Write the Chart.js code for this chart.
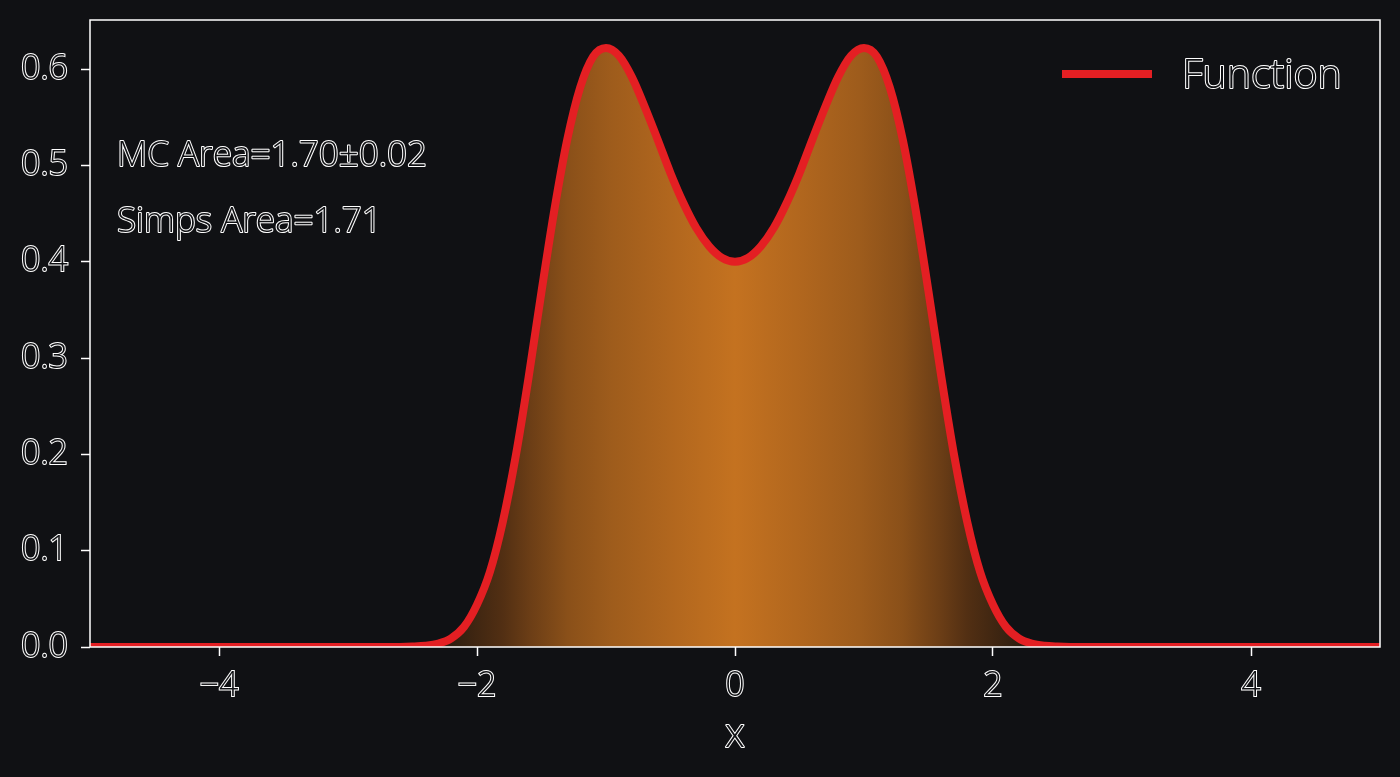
<!DOCTYPE html>
<html>
<head>
<meta charset="utf-8">
<script src="https://cdn.jsdelivr.net/npm/chart.js@4.4.1/dist/chart.umd.min.js"></script>
<style>
  html, body { margin: 0; padding: 0; background: #101114; }
  #wrap { width: 1400px; height: 777px; }
</style>
</head>
<body>
<div id="wrap"><canvas id="chart1" width="1400" height="777"></canvas></div>
<script>
var X_VALUES = [-5, -4, -3, -2.6, -2.5, -2.4, -2.3, -2.2, -2.1, -2.0, -1.9, -1.8, -1.7, -1.6, -1.5, -1.4, -1.3, -1.2, -1.1, -1.0,
                -0.9, -0.8, -0.7, -0.6, -0.5, -0.4, -0.3, -0.2, -0.1, 0,
                0.1, 0.2, 0.3, 0.4, 0.5, 0.6, 0.7, 0.8, 0.9, 1.0, 1.1, 1.2, 1.3, 1.4, 1.5, 1.6, 1.7, 1.8, 1.9, 2.0,
                2.1, 2.2, 2.3, 2.4, 2.5, 2.6, 3, 4, 5];
var Y_VALUES = [0, 0, 0, 0.0001, 0.0004, 0.0012, 0.0035, 0.009, 0.021, 0.044, 0.078, 0.130, 0.198, 0.280, 0.369, 0.454, 0.527, 0.581, 0.613, 0.622,
                0.614, 0.592, 0.561, 0.527, 0.492, 0.461, 0.435, 0.416, 0.404, 0.400,
                0.404, 0.416, 0.435, 0.461, 0.492, 0.527, 0.561, 0.592, 0.614, 0.622, 0.613, 0.581, 0.527, 0.454, 0.369, 0.280, 0.198, 0.130, 0.078, 0.044,
                0.021, 0.009, 0.0035, 0.0012, 0.0004, 0.0001, 0, 0, 0];

var X_TICKS = [-4, -2, 0, 2, 4];
var Y_TICKS = [0, 0.1, 0.2, 0.3, 0.4, 0.5, 0.6];
var SERIES_LABEL = 'Function';
var X_TITLE = 'x';
var NOTES = ['MC Area=1.70\u00b10.02', 'Simps Area=1.71'];

var BG = '#101114';
var RED = '#e41f23';
var FONT = '"Open Sans", "DejaVu Sans", sans-serif';

var points = X_VALUES.map(function(x, i){ return {x: x, y: Y_VALUES[i]}; });

function outlined(ctx, text, x, y, size, align){
  ctx.save();
  ctx.font = '300 ' + size + 'px ' + FONT;
  ctx.textAlign = align || 'left';
  ctx.textBaseline = 'alphabetic';
  ctx.lineWidth = 2;
  ctx.strokeStyle = '#ffffff';
  ctx.lineJoin = 'round';
  ctx.strokeText(text, x, y);
  ctx.fillStyle = BG;
  ctx.fillText(text, x, y);
  ctx.restore();
}

function orangeFill(context){
  var chart = context.chart;
  var area = chart.chartArea;
  if (!area) return 'rgba(190,110,30,0.9)';
  var xs = chart.scales.x;
  var g = chart.ctx.createLinearGradient(xs.getPixelForValue(-2.4), 0, xs.getPixelForValue(2.4), 0);
  g.addColorStop(0.00, 'rgb(30,22,16)');
  g.addColorStop(0.06, 'rgb(55,34,17)');
  g.addColorStop(0.125, 'rgb(82,47,19)');
  g.addColorStop(0.17, 'rgb(108,62,22)');
  g.addColorStop(0.23, 'rgb(138,80,25)');
  g.addColorStop(0.30, 'rgb(158,92,28)');
  g.addColorStop(0.40, 'rgb(178,103,30)');
  g.addColorStop(0.50, 'rgb(196,114,32)');
  g.addColorStop(0.60, 'rgb(178,103,30)');
  g.addColorStop(0.70, 'rgb(158,92,28)');
  g.addColorStop(0.77, 'rgb(138,80,25)');
  g.addColorStop(0.83, 'rgb(108,62,22)');
  g.addColorStop(0.875, 'rgb(82,47,19)');
  g.addColorStop(0.94, 'rgb(55,34,17)');
  g.addColorStop(1.00, 'rgb(30,22,16)');
  return g;
}

var decor = {
  id: 'decor',
  afterDraw: function(chart){
    var ctx = chart.ctx;
    var a = chart.chartArea;
    // frame
    ctx.save();
    ctx.strokeStyle = '#ffffff';
    ctx.lineWidth = 1.5;
    ctx.strokeRect(a.left, a.top, a.right - a.left, a.bottom - a.top);
    ctx.restore();
    // legend
    ctx.save();
    ctx.strokeStyle = RED;
    ctx.lineWidth = 8;
    ctx.beginPath();
    ctx.moveTo(1062, 74);
    ctx.lineTo(1152, 74);
    ctx.stroke();
    ctx.restore();
    outlined(ctx, SERIES_LABEL, 1182, 88, 41, 'left');
    // notes
    outlined(ctx, NOTES[0], 117, 166, 35, 'left');
    outlined(ctx, NOTES[1], 117, 232, 35, 'left');
    // axis title
    outlined(ctx, X_TITLE, 735, 747, 40, 'center');
  }
};

const ctx = document.getElementById('chart1');
new Chart(ctx, {
  type: 'line',
  data: {
    datasets: [
      {
        label: SERIES_LABEL,
        data: points,
        borderColor: RED,
        borderWidth: 8,
        pointRadius: 0,
        fill: false,
        cubicInterpolationMode: 'monotone',
        clip: 0,
        order: 0
      },
      {
        label: 'samples',
        data: points,
        borderWidth: 0,
        borderColor: 'rgba(0,0,0,0)',
        backgroundColor: orangeFill,
        pointRadius: 0,
        fill: 'origin',
        cubicInterpolationMode: 'monotone',
        order: 1
      }
    ]
  },
  options: {
    responsive: false,
    maintainAspectRatio: false,
    devicePixelRatio: 1,
    animation: false,
    layout: { padding: { left: 0, right: 20, top: 20, bottom: 0 } },
    plugins: {
      legend: { display: false },
      tooltip: { enabled: false }
    },
    scales: {
      x: {
        type: 'linear',
        min: -5,
        max: 5,
        afterBuildTicks: function(axis){ axis.ticks = X_TICKS.map(function(v){ return {value: v}; }); },
        afterFit: function(axis){ axis.height = 130; axis.paddingLeft = 0; axis.paddingRight = 0; },
        grid: { drawOnChartArea: false, drawTicks: true, tickLength: 9, tickColor: '#ffffff', tickWidth: 1.5 },
        border: { display: false },
        ticks: {
          maxRotation: 0,
          padding: 10,
          color: BG,
          textStrokeColor: '#ffffff',
          textStrokeWidth: 2,
          font: { family: FONT, size: 34, weight: 300 },
          callback: function(v){ return v < 0 ? '\u2212' + Math.abs(v) : String(v); }
        }
      },
      y: {
        type: 'linear',
        min: 0,
        max: 0.651,
        afterBuildTicks: function(axis){ axis.ticks = Y_TICKS.map(function(v){ return {value: v}; }); },
        afterFit: function(axis){ axis.width = 90; axis.paddingTop = 0; axis.paddingBottom = 0; },
        grid: { drawOnChartArea: false, drawTicks: true, tickLength: 9, tickColor: '#ffffff', tickWidth: 1.5 },
        border: { display: false },
        ticks: {
          padding: 13,
          color: BG,
          textStrokeColor: '#ffffff',
          textStrokeWidth: 2,
          font: { family: FONT, size: 34, weight: 300 },
          callback: function(v){ return Number(v).toFixed(1); }
        }
      }
    }
  },
  plugins: [decor]
});
</script>
</body>
</html>
